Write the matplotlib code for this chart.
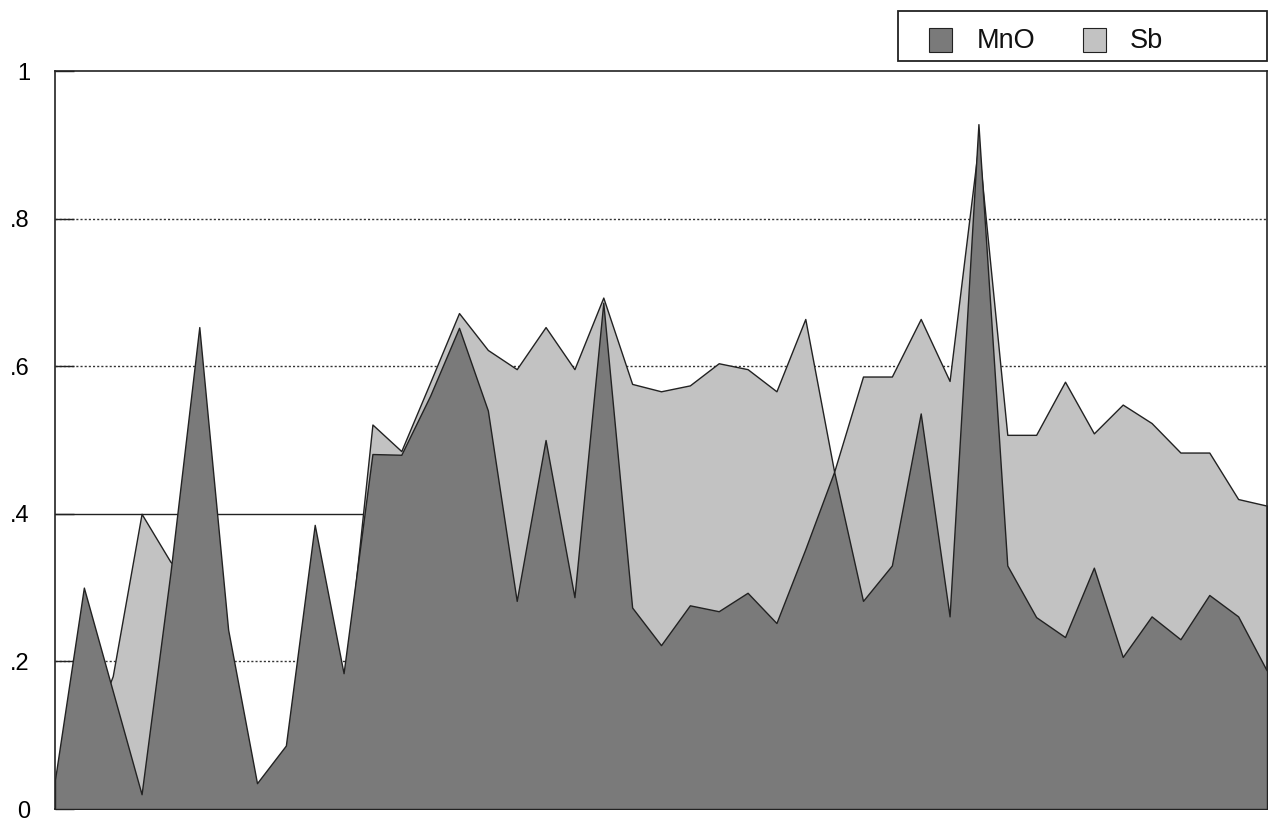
import matplotlib
matplotlib.use("Agg")
import matplotlib.pyplot as plt
from matplotlib.patches import Rectangle

plt.rcParams['font.family'] = ['Liberation Sans', 'DejaVu Sans']

# Sample index (no x labels in the original)
samples = list(range(43))

mno = [0.04, 0.30, 0.16, 0.02, 0.32, 0.653, 0.243, 0.035, 0.086, 0.385,
       0.184, 0.481, 0.48, 0.56, 0.652, 0.54, 0.282, 0.50, 0.287, 0.686,
       0.273, 0.222, 0.276, 0.268, 0.293, 0.252, 0.352, 0.457, 0.282, 0.33,
       0.536, 0.261, 0.928, 0.33, 0.26, 0.233, 0.327, 0.206, 0.261, 0.230,
       0.290, 0.261, 0.187]

sb = [0.0, 0.08, 0.18, 0.40, 0.335, 0.30, 0.15, 0.02, 0.05, 0.20,
      0.15, 0.521, 0.485, 0.578, 0.672, 0.622, 0.596, 0.653, 0.596, 0.693,
      0.576, 0.566, 0.574, 0.604, 0.596, 0.566, 0.664, 0.457, 0.586, 0.586,
      0.664, 0.580, 0.90, 0.507, 0.507, 0.579, 0.509, 0.548, 0.523, 0.483,
      0.483, 0.420, 0.411]

yticks = [0, 0.2, 0.4, 0.6, 0.8, 1.0]
ytick_labels = ["0", ".2", ".4", ".6", ".8", "1"]
series_names = ["MnO", "Sb"]

mno_color = "#7a7a7a"
sb_color = "#c2c2c2"
ink = "#222222"

W, H = 1271, 822
fig = plt.figure(figsize=(W / 100, H / 100), dpi=100)
left, right, top, bottom = 55, 1267, 71, 809
ax = fig.add_axes([left / W, 1 - bottom / H, (right - left) / W, (bottom - top) / H])

# gridlines (behind the areas)
for yv in [0.2, 0.6, 0.8]:
    ax.axhline(yv, color="#333333", lw=1.0, ls=(0, (1.5, 1.5)), zorder=1)
ax.axhline(0.4, color=ink, lw=1.0, ls="-", zorder=1)

ax.fill_between(samples, 0, sb, color=sb_color, edgecolor=ink, lw=1.0, zorder=2)
ax.fill_between(samples, 0, mno, color=mno_color, edgecolor=ink, lw=1.0, zorder=3)

ax.set_xlim(0, len(samples) - 1)
ax.set_ylim(0, 1)
ax.set_xticks([])
ax.set_yticks(yticks)
ax.set_yticklabels(ytick_labels, fontsize=17)
ax.tick_params(axis='y', direction='in', length=14, width=1.0, pad=18, color=ink)
for s in ax.spines.values():
    s.set_linewidth(1.2)
    s.set_color(ink)


# legend drawn in figure pixel coordinates
def fx(px):
    return px / W


def fy(py):
    return 1 - py / H


fig.patches.append(Rectangle((fx(898), fy(61)), fx(1267) - fx(898), fy(11) - fy(61),
                             transform=fig.transFigure, facecolor="white",
                             edgecolor=ink, lw=1.3, zorder=5))
sq_x = [929, 1083]
tx_x = [977, 1130]
colors = [mno_color, sb_color]
for name, c, sx, tx in zip(series_names, colors, sq_x, tx_x):
    fig.patches.append(Rectangle((fx(sx), fy(52)), fx(sx + 23) - fx(sx), fy(28) - fy(52),
                                 transform=fig.transFigure, facecolor=c,
                                 edgecolor=ink, lw=0.8, zorder=6))
    fig.text(fx(tx), fy(38), name, fontsize=19.5, ha="left", va="center_baseline",
             color="#111111", zorder=7)

fig.savefig("out.png", dpi=100)
